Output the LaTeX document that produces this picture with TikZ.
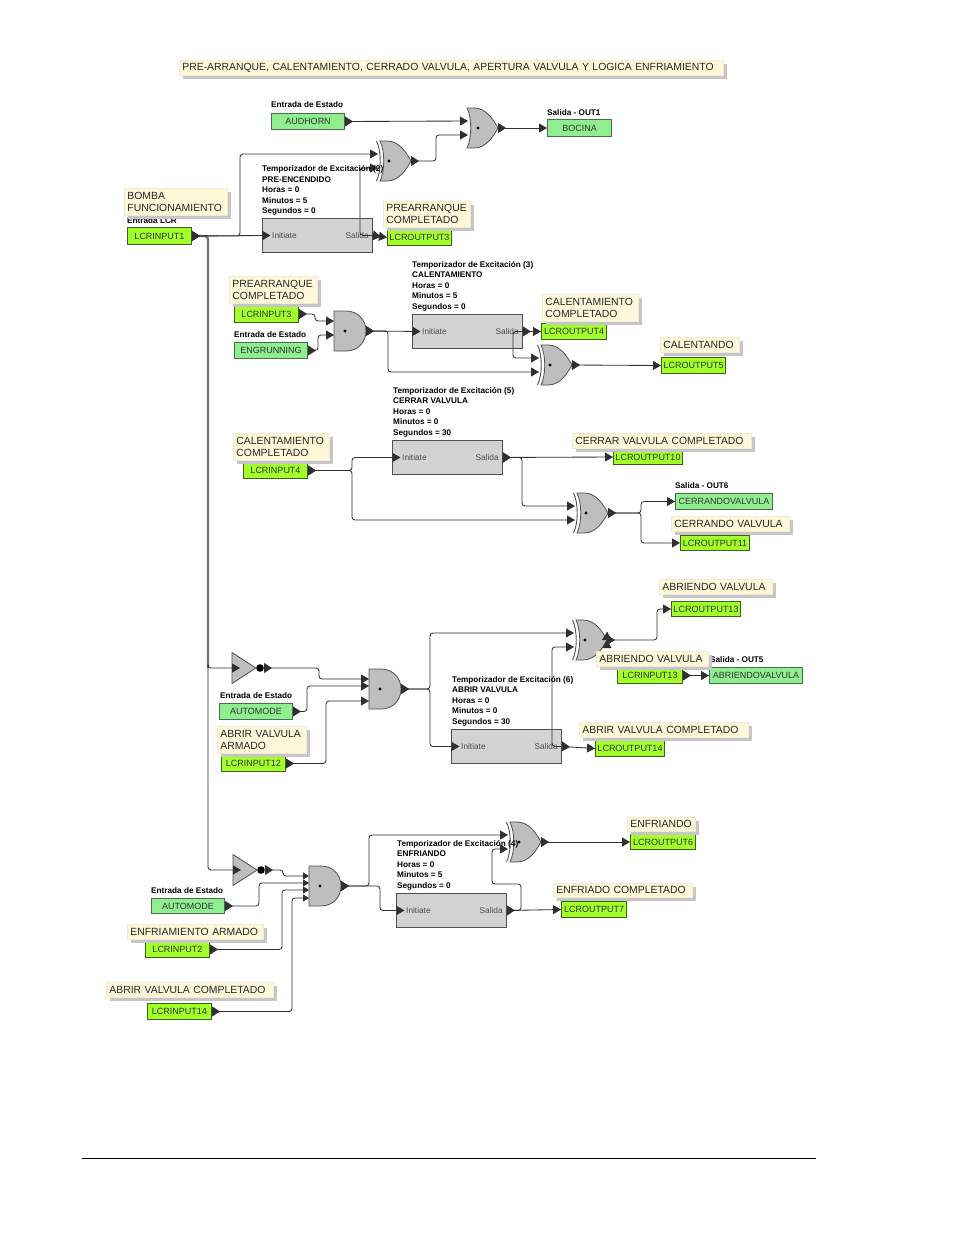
\documentclass[tikz,border=0pt]{standalone}
\usepackage{fontspec}
\setmainfont{Liberation Sans}
\usetikzlibrary{arrows.meta,shadows}
\definecolor{limeg}{HTML}{A2FF2A}
\definecolor{limeb}{HTML}{3F5F22}
\definecolor{mintg}{HTML}{90EE90}
\definecolor{mintb}{HTML}{47704A}
\definecolor{gategray}{HTML}{BEBEBE}
\definecolor{timergray}{HTML}{D3D3D3}
\definecolor{edgegray}{HTML}{505050}
\definecolor{notefill}{HTML}{FFF8D8}
\definecolor{noteedge}{HTML}{EFEBD6}
\definecolor{noteshade}{HTML}{C6C6C6}
\definecolor{wirec}{HTML}{303030}
\tikzset{
  tipbig/.tip={Triangle[length=8pt,width=9pt]},
  tipout/.tip={Triangle[reversed,length=8pt,width=10pt]},
  wi/.style={draw=wirec,line width=.85pt,rounded corners=3pt,-{tipbig}},
  wo/.style={draw=wirec,line width=.85pt,rounded corners=3pt,{tipout}-{tipbig}},
  wos/.style={draw=wirec,line width=.85pt,rounded corners=3pt,{tipout}-{Triangle[length=6pt,width=7pt]}},
  wis/.style={draw=wirec,line width=.85pt,rounded corners=3pt,-{Triangle[length=6pt,width=7pt]}},
  trunk/.style={draw=gray!90!black,line width=2.4pt,rounded corners=3pt},
  gateshape/.style={fill=gategray,draw=edgegray,line width=.8pt},
  notefont/.style={font=\fontsize{10.4}{12}\selectfont,text=black!85},
  small/.style={font=\fontsize{8.2}{10.45}\selectfont\bfseries,inner sep=0pt,align=left},
  notebox/.style={notefont,fill=notefill,draw=noteedge,line width=.8pt,inner ysep=0pt,inner xsep=3pt,align=left,
     anchor=north west,drop shadow={shadow xshift=3.5pt,shadow yshift=-3.5pt,fill=noteshade,opacity=1}},
  lcrbox/.style={fill=limeg,draw=limeb,line width=1pt,font=\fontsize{9}{10}\selectfont,text=black!80,inner sep=0pt,anchor=north west},
  outbox/.style={fill=mintg,draw=mintb,line width=1pt,font=\fontsize{9}{10}\selectfont,text=black!80,inner sep=0pt,anchor=north west},
  timerbox/.style={fill=timergray,draw=edgegray,line width=.9pt,inner sep=0pt,anchor=north west},
  pinlabel/.style={font=\fontsize{8.3}{10}\selectfont,text=black!70,inner sep=0pt},
  orgate/.pic={
    \path[gateshape] (0,-20) -- (7,-20) .. controls (19,-20) and (26,-9) .. (31,0) .. controls (26,9) and (19,20) .. (7,20) -- (0,20) .. controls (5,10) and (5,-10) .. (0,-20) -- cycle;
    \fill[black] (11,0) circle (1.6);
    \coordinate (-in1) at (1,-7); \coordinate (-in2) at (1,7); \coordinate (-out) at (31,0);
  },
  xorgate/.pic={
    \path[gateshape] (0,-20) -- (7,-20) .. controls (19,-20) and (26,-9) .. (31,0) .. controls (26,9) and (19,20) .. (7,20) -- (0,20) .. controls (5,10) and (5,-10) .. (0,-20) -- cycle;
    \draw[edgegray,line width=.9pt] (-3.5,-20) .. controls (1.5,-10) and (1.5,10) .. (-3.5,20);
    \fill[black] (9,0) circle (1.6);
    \coordinate (-in1) at (-2,-7); \coordinate (-in2) at (-2,7); \coordinate (-out) at (31,0);
  },
  andgate/.pic={
    \path[gateshape] (0,-20) -- (12,-20) .. controls (24,-20) and (32,-11) .. (32,0) .. controls (32,11) and (24,20) .. (12,20) -- (0,20) -- cycle;
    \fill[black] (11,0) circle (1.6);
    \coordinate (-a) at (0,-10); \coordinate (-b) at (0,-3); \coordinate (-c) at (0,4); \coordinate (-d) at (0,12);
    \coordinate (-out) at (32,0);
  },
  notgate/.pic={
    \path[gateshape] (0,-15.5) -- (24,0) -- (0,15.5) -- cycle;
    \fill[black] (28,0) circle (3.8);
    \coordinate (-in) at (8,0); \coordinate (-out) at (32,0);
  },
}
% name, x1, y1, x2, y2, text
\newcommand\notelab[6]{\pgfmathsetmacro\lw{#4-#2}\pgfmathsetmacro\lt{#4-#2-6}\pgfmathsetmacro\lh{#5-#3}%
  \node[notebox,minimum width=\lw pt,minimum height=\lh pt,text width=\lt pt] (#1) at (#2,#3) {#6};}
\newcommand\lcr[6]{\pgfmathsetmacro\lw{#4-#2}\pgfmathsetmacro\lh{#5-#3}%
  \node[lcrbox,minimum width=\lw pt,minimum height=\lh pt] (#1) at (#2,#3) {#6};}
\newcommand\outb[6]{\pgfmathsetmacro\lw{#4-#2}\pgfmathsetmacro\lh{#5-#3}%
  \node[outbox,minimum width=\lw pt,minimum height=\lh pt] (#1) at (#2,#3) {#6};}
\newcommand\timer[3]{%
  \node[timerbox,minimum width=110pt,minimum height=34pt] (#1) at (#2,#3) {};
  \coordinate (#1-in) at ([xshift=8.5pt]#1.west);
  \node[pinlabel,anchor=west] (#1-ini) at ([xshift=10pt]#1.west) {Initiate};
  \node[pinlabel,anchor=east] (#1-sal) at ([xshift=-4pt]#1.east) {Salida};}
\begin{document}
\begin{tikzpicture}[x=1pt,y=-1pt]
\useasboundingbox (0,0) rectangle (954,1235);
\fill[white] (0,0) rectangle (954,1235);
% gates
\pic (g1) at (467,128) {orgate};
\pic (x1) at (380,161) {xorgate};
\pic (a2) at (334,331) {andgate};
\pic (x2) at (541,365) {xorgate};
\pic (x3) at (577,513) {xorgate};
\pic (x4) at (576,640) {xorgate};
\pic (a3) at (369,689) {andgate};
\pic (n1) at (232,668) {notgate};
\pic (n2) at (233,870) {notgate};
\pic (a4) at (309,886) {andgate};
\pic (x5) at (510,842) {xorgate};
% timers
\timer{t1}{262}{218}
\timer{t2}{412}{314}
\timer{t5}{392}{440}
\timer{t6}{451}{729}
\timer{t4}{396}{893}
% boxes
\outb{audhorn}{271}{113}{344}{129}{AUDHORN}
\outb{bocina}{547}{119}{611}{136}{BOCINA}
\lcr{lin1}{127}{227}{191}{244}{LCRINPUT1}
\lcr{lout3}{387}{229}{451}{245}{LCROUTPUT3}
\lcr{lin3}{234}{305}{298}{322}{LCRINPUT3}
\outb{engrun}{234}{342}{307}{358}{ENGRUNNING}
\lcr{lout4}{541}{323}{606}{339}{LCROUTPUT4}
\lcr{lout5}{661}{357}{725}{373}{LCROUTPUT5}
\lcr{lin4}{243}{462}{307}{478}{LCRINPUT4}
\lcr{lout10}{613}{449}{682}{464}{LCROUTPUT10}
\outb{cerrando}{675}{493}{772}{509}{CERRANDOVALVULA}
\lcr{lout11}{680}{535}{749}{550}{LCROUTPUT11}
\lcr{lout13}{671}{601}{740}{616}{LCROUTPUT13}
\lcr{lin13}{617}{667}{682}{683}{LCRINPUT13}
\outb{abriendo}{709}{667}{802}{683}{ABRIENDOVALVULA}
\outb{auto1}{219}{703}{292}{719}{AUTOMODE}
\lcr{lin12}{221}{755}{285}{771}{LCRINPUT12}
\lcr{lout14}{595}{740}{664}{756}{LCROUTPUT14}
\outb{auto2}{151}{898}{224}{913}{AUTOMODE}
\lcr{lin2}{145}{941}{209}{957}{LCRINPUT2}
\lcr{lin14}{147}{1003}{211}{1019}{LCRINPUT14}
\lcr{lout6}{630}{834}{695}{849}{LCROUTPUT6}
\lcr{lout7}{561}{901}{626}{917}{LCROUTPUT7}
% bends
\coordinate (b1) at (240,0);
\coordinate (b2) at (360,0);
\coordinate (b3) at (436,0);
\coordinate (b4) at (315,0);
\coordinate (b5) at (318,0);
\coordinate (b6) at (388,0);
\coordinate (b7) at (513,0);
\coordinate (b8) at (352,0);
\coordinate (b9) at (522,0);
\coordinate (b10) at (641,0);
\coordinate (b11) at (657,0);
\coordinate (b12) at (319,0);
\coordinate (b13) at (307,0);
\coordinate (b14) at (326,0);
\coordinate (b15) at (430,0);
\coordinate (b16) at (552,0);
\coordinate (b17) at (283,0);
\coordinate (b18) at (259,0);
\coordinate (b19) at (282,0);
\coordinate (b20) at (292,0);
\coordinate (b21) at (369,0);
\coordinate (b22) at (380,0);
\coordinate (b23) at (521,0);
\coordinate (b24) at (492,0);
\coordinate (j24) at (0,884);
\coordinate (busA) at (208,668);
% wires
\draw[trunk] (lin1.east) -- (busA |- lin1.east) -- (busA);
\draw[wi] (busA) -- (busA |- n1-in) -- (n1-in);
\draw[wi] (busA) -- (busA |- n2-in) -- (n2-in);
\draw[wo] (audhorn.east) -- (g1-in1);
\draw[wo] (x1-out) -- (b3 |- x1-out) -- (b3 |- g1-in2) -- (g1-in2);
\draw[wo] (g1-out) -- (bocina.west);
\draw[wo] (lin1.east) -- (b1 |- lin1.east) -- (b1 |- x1-in1) -- (x1-in1);
\draw[wo] (lin1.east) -- (t1-in);
\draw[wo] (t1.east) -- (lout3.west);
\draw[wi] (t1.east) -- (b2 |- t1.east) -- (b2 |- x1-in2) -- (x1-in2);
\draw[wo] (lin3.east) -- (b4 |- lin3.east) -- (b4 |- a2-a) -- (a2-a);
\draw[wo] (engrun.east) -- (b5 |- engrun.east) -- (b5 |- a2-c) -- (a2-c);
\draw[wo] (a2-out) -- (t2-in);
\draw[wo] (a2-out) -- (b6 |- a2-out) -- (b6 |- x2-in2) -- (x2-in2);
\draw[wo] (t2.east) -- (lout4.west);
\draw[wi] (t2.east) -- (b7 |- t2.east) -- (b7 |- x2-in1) -- (x2-in1);
\draw[wo] (x2-out) -- (lout5.west);
\draw[wo] (lin4.east) -- (b8 |- lin4.east) -- (b8 |- t5-in) -- (t5-in);
\draw[wo] (lin4.east) -- (b8 |- lin4.east) -- (b8 |- x3-in2) -- (x3-in2);
\draw[wo] (t5.east) -- (lout10.west);
\draw[wo] (t5.east) -- (b9 |- t5.east) -- (b9 |- x3-in1) -- (x3-in1);
\draw[wo] (x3-out) -- (b10 |- x3-out) -- (b10 |- cerrando.west) -- (cerrando.west);
\draw[wo] (x3-out) -- (b10 |- x3-out) -- (b10 |- lout11.west) -- (lout11.west);
\draw[wo] (x4-out) -- (b11 |- x4-out) -- (b11 |- lout13.west) -- (lout13.west);
\draw[wo] (lin13.east) -- (abriendo.west);
\draw[wo] (n1-out) -- (b12 |- n1-out) -- (b12 |- a3-a) -- (a3-a);
\draw[wo] (auto1.east) -- (b13 |- auto1.east) -- (b13 |- a3-b) -- (a3-b);
\draw[wo] (lin12.east) -- (b14 |- lin12.east) -- (b14 |- a3-d) -- (a3-d);
\draw[wo] (a3-out) -- (b15 |- a3-out) -- (b15 |- x4-in1) -- (x4-in1);
\draw[wo] (a3-out) -- (b15 |- a3-out) -- (b15 |- t6-in) -- (t6-in);
\draw[wo] (t6.east) -- (lout14.west);
\draw[wi] (t6.east) -- (b16 |- t6.east) -- (b16 |- x4-in2) -- (x4-in2);
\draw[wos] (n2-out) -- (b17 |- n2-out) -- (b17 |- a4-a) -- (a4-a);
\draw[wos] (auto2.east) -- (b18 |- auto2.east) -- (b18 |- a4-b) -- (a4-b);
\draw[wos] (lin2.east) -- (b19 |- lin2.east) -- (b19 |- a4-c) -- (a4-c);
\draw[wos] (lin14.east) -- (b20 |- lin14.east) -- (b20 |- a4-d) -- (a4-d);
\draw[wo] (a4-out) -- (b21 |- a4-out) -- (b21 |- x5-in1) -- (x5-in1);
\draw[wo] (a4-out) -- (b22 |- a4-out) -- (b22 |- t4-in) -- (t4-in);
\draw[wo] (x5-out) -- (lout6.west);
\draw[wo] (t4.east) -- (lout7.west);
\draw[wi] (t4.east) -- (b23 |- t4.east) -- (b23 |- j24) -- (b24 |- j24) -- (b24 |- x5-in2) -- (x5-in2);
\draw[wo] (x4-out) -- ++(0,0);
% small captions
\node[small,anchor=west] (c1) at (271,105) {Entrada de Estado};
\node[small,anchor=west] (c2) at (547,113) {Salida - OUT1};
\node[small,anchor=west] (c3) at (127,221) {Entrada LCR};
\node[small,anchor=west] (c4) at (234,335) {Entrada de Estado};
\node[small,anchor=west] (c5) at (675,486) {Salida - OUT6};
\node[small,anchor=west] (c6) at (710,660) {Salida - OUT5};
\node[small,anchor=west] (c7) at (220,696) {Entrada de Estado};
\node[small,anchor=west] (c8) at (151,891) {Entrada de Estado};
\node[small,anchor=west] (c9) at (671,593) {Salida LCR};
\node[small,anchor=west] (c10) at (148,996) {Entrada LCR};
% timer captions
\node[small,anchor=north west] (d1) at (262,165.5) {Temporizador de Excitación (2)\\PRE-ENCENDIDO\\Horas = 0\\Minutos = 5\\Segundos = 0};
\node[small,anchor=north west] (d2) at (412,261) {Temporizador de Excitación (3)\\CALENTAMIENTO\\Horas = 0\\Minutos = 5\\Segundos = 0};
\node[small,anchor=north west] (d3) at (393,387) {Temporizador de Excitación (5)\\CERRAR VALVULA\\Horas = 0\\Minutos = 0\\Segundos = 30};
\node[small,anchor=north west] (d4) at (452,676) {Temporizador de Excitación (6)\\ABRIR VALVULA\\Horas = 0\\Minutos = 0\\Segundos = 30};
\node[small,anchor=north west] (d5) at (397,840) {Temporizador de Excitación (4)\\ENFRIANDO\\Horas = 0\\Minutos = 5\\Segundos = 0};
% notes
\notelab{title}{179}{60}{723}{75}{PRE-ARRANQUE, CALENTAMIENTO, CERRADO VALVULA, APERTURA VALVULA Y LOGICA ENFRIAMIENTO}
\notelab{n01}{124}{188}{227}{215}{BOMBA\\FUNCIONAMIENTO}
\notelab{n02}{383}{201}{470}{227}{PREARRANQUE\\COMPLETADO}
\notelab{n03}{229}{276}{317}{303}{PREARRANQUE\\COMPLETADO}
\notelab{n04}{542}{294}{638}{321}{CALENTAMIENTO\\COMPLETADO}
\notelab{n05}{660}{337}{739}{352}{CALENTANDO}
\notelab{n06}{233}{433}{329}{460}{CALENTAMIENTO\\COMPLETADO}
\notelab{n07}{572}{433}{751}{448}{CERRAR VALVULA COMPLETADO}
\notelab{n08}{671}{516}{789}{531}{CERRANDO VALVULA}
\notelab{n09}{659}{579}{772}{594}{ABRIENDO VALVULA}
\notelab{n10}{596}{651}{708}{666}{ABRIENDO VALVULA}
\notelab{n11}{217}{726}{306}{753}{ABRIR VALVULA\\ARMADO}
\notelab{n12}{579}{722}{748}{737}{ABRIR VALVULA COMPLETADO}
\notelab{n13}{627}{817}{695}{831}{ENFRIANDO}
\notelab{n14}{553}{883}{692}{897}{ENFRIADO COMPLETADO}
\notelab{n15}{127}{924}{263}{939}{ENFRIAMIENTO ARMADO}
\notelab{n16}{106}{982}{273}{997}{ABRIR VALVULA COMPLETADO}
% page rule
\coordinate (ruleL) at (82,1158);
\coordinate (ruleR) at (816,1158);
\draw[black,line width=.8pt] (ruleL) -- (ruleR);
\end{tikzpicture}
\end{document}
